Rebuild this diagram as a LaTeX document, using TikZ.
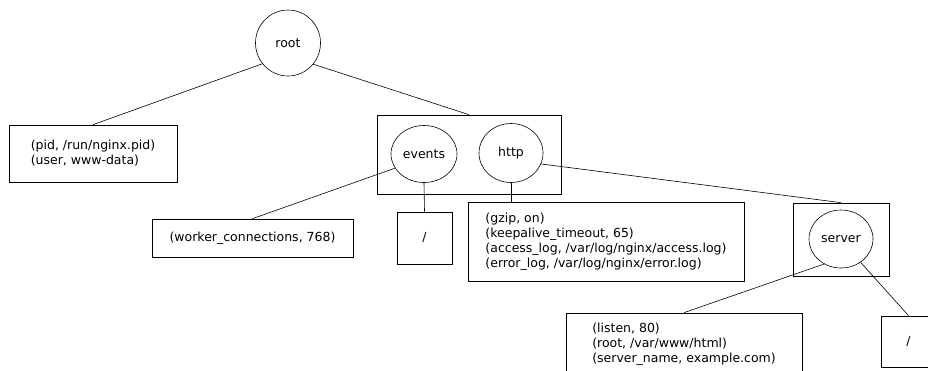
\documentclass[tikz,border=0pt]{standalone}
\usepackage{fontspec}
\setmainfont{DejaVu Sans}
\usetikzlibrary{shapes.geometric}
\begin{document}
\begin{tikzpicture}[x=1pt,y=-1pt,
  every node/.style={font=\fontsize{12.5}{15}\selectfont, inner sep=0pt},
  keynode/.style={draw, ellipse, line width=0.6pt, minimum width=65pt, minimum height=59pt},
  block/.style={draw, rectangle, line width=0.7pt},
  pairs/.style={block, align=left},
  link/.style={line width=0.6pt}]
\useasboundingbox (0,0) rectangle (928,370);
\clip (0,0) rectangle (928,370);

% group boxes
\node[block, minimum width=184pt, minimum height=79pt] (topgrp) at (469,154.5) {};
\node[block, minimum width=96pt, minimum height=73pt] (srvgrp) at (841,239.5) {};

% key nodes
\node[keynode, minimum height=66pt] (root) at (288,43) {root};
\node[keynode, minimum width=66pt, minimum height=57pt] (events) at (424,154) {events};
\node[keynode, minimum width=64pt] (http) at (511,153) {http};
\node[keynode, minimum width=64pt, minimum height=58pt] (server) at (841,239) {server};

% value boxes
\node[pairs, minimum width=168pt, minimum height=57pt] (rootvals) at (93,153.5)
  {(pid, /run/nginx.pid)\\(user, www-data)};
\node[pairs, minimum width=201pt, minimum height=38pt] (evvals) at (252.5,238)
  {(worker\_connections, 768)};
\node[block, minimum width=55pt, minimum height=52pt] (evslash) at (424.5,238) {/};
\node[pairs, minimum width=276pt, minimum height=79pt] (httpvals) at (606,241.5)
  {(gzip, on)\\(keepalive\_timeout, 65)\\(access\_log, /var/log/nginx/access.log)\\(error\_log, /var/log/nginx/error.log)};
\node[pairs, minimum width=236pt, minimum height=62pt] (srvvals) at (684,344)
  {(listen, 80)\\(root, /var/www/html)\\(server\_name, example.com)};
\node[block, minimum width=55pt, minimum height=51pt] (srvslash) at (908.5,341.5) {/};

% connectors
\draw[link] (root.219) -- (rootvals.north);
\draw[link] (root.320) -- (topgrp.north);
\draw[link] (events.206) -- (evvals.north);
\draw[link] (events.south) -- (evslash.north);
\draw[link] (http.south) -- (http.south |- httpvals.north);
\draw[link] (http.340) -- (srvgrp.north);
\draw[link] (server.236) -- (srvvals.north);
\draw[link] (server.310) -- (srvslash.north);
\end{tikzpicture}
\end{document}
